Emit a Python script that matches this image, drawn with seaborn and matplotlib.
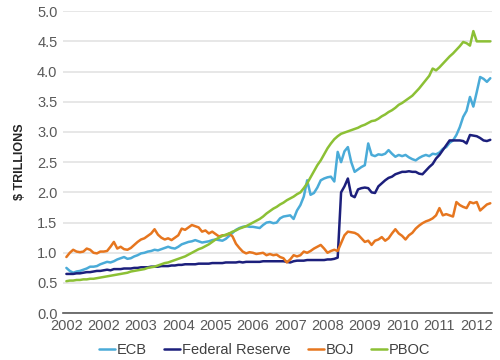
import matplotlib
matplotlib.use("Agg")
import matplotlib.pyplot as plt
import pandas as pd
import seaborn as sns

# monthly balance sheet sizes, Jan 2002 - Jun 2012, $ trillions
ecb = [0.75, 0.70, 0.67, 0.69, 0.70, 0.72, 0.74, 0.77, 0.77, 0.78, 0.81, 0.83,
       0.85, 0.84, 0.86, 0.89, 0.91, 0.93, 0.90, 0.91, 0.94, 0.96, 0.99, 1.00,
       1.02, 1.03, 1.05, 1.04, 1.06, 1.08, 1.10, 1.08, 1.07, 1.10, 1.14, 1.16,
       1.18, 1.19, 1.21, 1.19, 1.17, 1.18, 1.19, 1.21, 1.22, 1.21, 1.20, 1.23,
       1.28, 1.33, 1.38, 1.41, 1.43, 1.44, 1.43, 1.43, 1.42, 1.41, 1.46, 1.50,
       1.51, 1.49, 1.50, 1.57, 1.60, 1.61, 1.62, 1.56, 1.70, 1.79, 1.93, 2.20,
       1.96, 1.99, 2.08, 2.20, 2.23, 2.25, 2.26, 2.18, 2.67, 2.50, 2.68, 2.75,
       2.50, 2.34, 2.38, 2.42, 2.45, 2.81, 2.62, 2.60, 2.63, 2.62, 2.64, 2.70,
       2.64, 2.59, 2.62, 2.60, 2.62, 2.58, 2.55, 2.53, 2.57, 2.60, 2.62, 2.60,
       2.64, 2.63, 2.66, 2.72, 2.75, 2.82, 2.86, 2.95, 3.08, 3.25, 3.35, 3.58,
       3.42, 3.66, 3.91, 3.88, 3.83, 3.89]
fed = [0.65, 0.65, 0.65, 0.66, 0.66, 0.67, 0.68, 0.68, 0.69, 0.70, 0.70, 0.71,
       0.72, 0.71, 0.73, 0.73, 0.73, 0.74, 0.74, 0.74, 0.75, 0.75, 0.76, 0.76,
       0.76, 0.77, 0.77, 0.77, 0.78, 0.78, 0.78, 0.79, 0.79, 0.80, 0.80, 0.81,
       0.81, 0.81, 0.81, 0.82, 0.82, 0.82, 0.82, 0.83, 0.83, 0.83, 0.83, 0.84,
       0.84, 0.84, 0.84, 0.85, 0.84, 0.85, 0.85, 0.85, 0.85, 0.85, 0.86, 0.86,
       0.86, 0.86, 0.86, 0.86, 0.86, 0.85, 0.84, 0.86, 0.87, 0.87, 0.87, 0.88,
       0.88, 0.88, 0.88, 0.88, 0.88, 0.89, 0.89, 0.90, 0.92, 2.00, 2.10, 2.23,
       1.95, 1.92, 2.05, 2.07, 2.08, 2.07, 2.00, 1.99, 2.10, 2.15, 2.20, 2.24,
       2.26, 2.30, 2.32, 2.34, 2.34, 2.35, 2.34, 2.34, 2.31, 2.30, 2.36, 2.42,
       2.47, 2.56, 2.62, 2.70, 2.78, 2.86, 2.86, 2.86, 2.86, 2.85, 2.81, 2.95,
       2.94, 2.93, 2.90, 2.86, 2.85, 2.87]
boj = [0.93, 1.00, 1.05, 1.02, 1.01, 1.02, 1.07, 1.05, 1.00, 0.99, 1.02, 1.02,
       1.03, 1.10, 1.18, 1.07, 1.10, 1.06, 1.05, 1.08, 1.13, 1.18, 1.22, 1.24,
       1.28, 1.32, 1.39, 1.30, 1.25, 1.22, 1.24, 1.21, 1.25, 1.29, 1.40, 1.38,
       1.42, 1.46, 1.44, 1.42, 1.35, 1.37, 1.32, 1.35, 1.31, 1.27, 1.29, 1.29,
       1.32, 1.27, 1.15, 1.08, 1.02, 0.99, 1.01, 1.00, 0.98, 0.99, 1.00, 0.96,
       0.98, 0.96, 0.97, 0.93, 0.91, 0.84, 0.89, 0.96, 0.94, 0.96, 1.02, 1.00,
       1.03, 1.07, 1.10, 1.13, 1.07, 1.00, 1.03, 1.05, 1.03, 1.16, 1.29, 1.35,
       1.34, 1.33, 1.30, 1.24, 1.18, 1.20, 1.13, 1.20, 1.22, 1.26, 1.20, 1.24,
       1.32, 1.39, 1.32, 1.28, 1.22, 1.29, 1.33, 1.40, 1.45, 1.49, 1.52, 1.54,
       1.57, 1.62, 1.74, 1.62, 1.64, 1.62, 1.60, 1.84, 1.79, 1.76, 1.74, 1.84,
       1.82, 1.84, 1.70, 1.75, 1.80, 1.82]
pboc = [0.53, 0.54, 0.54, 0.55, 0.55, 0.56, 0.56, 0.57, 0.57, 0.58, 0.59, 0.60,
        0.61, 0.62, 0.63, 0.64, 0.65, 0.66, 0.67, 0.69, 0.70, 0.71, 0.72, 0.73,
        0.75, 0.76, 0.77, 0.79, 0.81, 0.83, 0.84, 0.86, 0.88, 0.90, 0.92, 0.94,
        0.97, 1.00, 1.03, 1.06, 1.08, 1.11, 1.14, 1.18, 1.22, 1.25, 1.28, 1.30,
        1.32, 1.35, 1.37, 1.40, 1.42, 1.44, 1.47, 1.50, 1.53, 1.56, 1.60, 1.65,
        1.69, 1.73, 1.76, 1.80, 1.83, 1.87, 1.90, 1.93, 1.97, 2.00, 2.07, 2.15,
        2.25, 2.35, 2.45, 2.53, 2.63, 2.73, 2.81, 2.88, 2.93, 2.97, 2.99, 3.01,
        3.03, 3.05, 3.07, 3.10, 3.12, 3.15, 3.18, 3.19, 3.22, 3.26, 3.29, 3.33,
        3.36, 3.40, 3.45, 3.48, 3.52, 3.56, 3.60, 3.66, 3.72, 3.79, 3.86, 3.93,
        4.05, 4.02, 4.07, 4.13, 4.19, 4.25, 4.30, 4.36, 4.42, 4.49, 4.47, 4.43,
        4.67, 4.50, 4.50, 4.50, 4.50, 4.50]

series_names = ["ECB", "Federal Reserve", "BOJ", "PBOC"]
series_colors = ["#4aabd8", "#1c1f7c", "#e6761f", "#8cc035"]
tick_labels = ["2002", "2002", "2003", "2004", "2005", "2006",
               "2007", "2008", "2009", "2010", "2011", "2012"]
tick_step = 11

frames = []
for name, vals in zip(series_names, [ecb, fed, boj, pboc]):
    frames.append(pd.DataFrame({"month": range(len(vals)), "value": vals, "bank": name}))
df = pd.concat(frames, ignore_index=True)

sns.set_theme(style="white")
plt.rcParams["font.family"] = ["Liberation Sans", "DejaVu Sans"]

fig = plt.figure(figsize=(5, 3.6), dpi=100)
ax = fig.add_axes([0.126, 0.13, 0.858, 0.839])

sns.lineplot(data=df, x="month", y="value", hue="bank", hue_order=series_names,
             palette=dict(zip(series_names, series_colors)), linewidth=1.8, ax=ax)

ax.set_ylim(0, 5.0)
ax.set_yticks([i * 0.5 for i in range(11)])
ax.set_yticklabels([f"{i * 0.5:.1f}" for i in range(11)])
ax.set_xlim(-1, len(ecb) - 0.5)
ax.set_xticks([i * tick_step for i in range(len(tick_labels))])
ax.set_xticklabels(tick_labels)
ax.tick_params(axis="both", length=0, labelsize=10.5, labelcolor="#595959", pad=4)

ax.yaxis.grid(True, color="#e3e3e3", linewidth=1.2)
ax.xaxis.grid(False)
for side in ["top", "right", "left"]:
    ax.spines[side].set_visible(False)
ax.spines["bottom"].set_color("#595959")
ax.spines["bottom"].set_linewidth(1.2)

ax.set_xlabel("")
ax.set_ylabel("$ TRILLIONS", fontsize=9, fontweight="bold", color="#262626", labelpad=8)

sns.move_legend(ax, "center", bbox_to_anchor=(0.47, -0.122), ncol=4, frameon=False,
                title=None, fontsize=10.5, handlelength=1.1, handletextpad=0.1,
                columnspacing=1.2)
for t in ax.get_legend().get_texts():
    t.set_color("#404040")

fig.savefig("out.png", dpi=100)
